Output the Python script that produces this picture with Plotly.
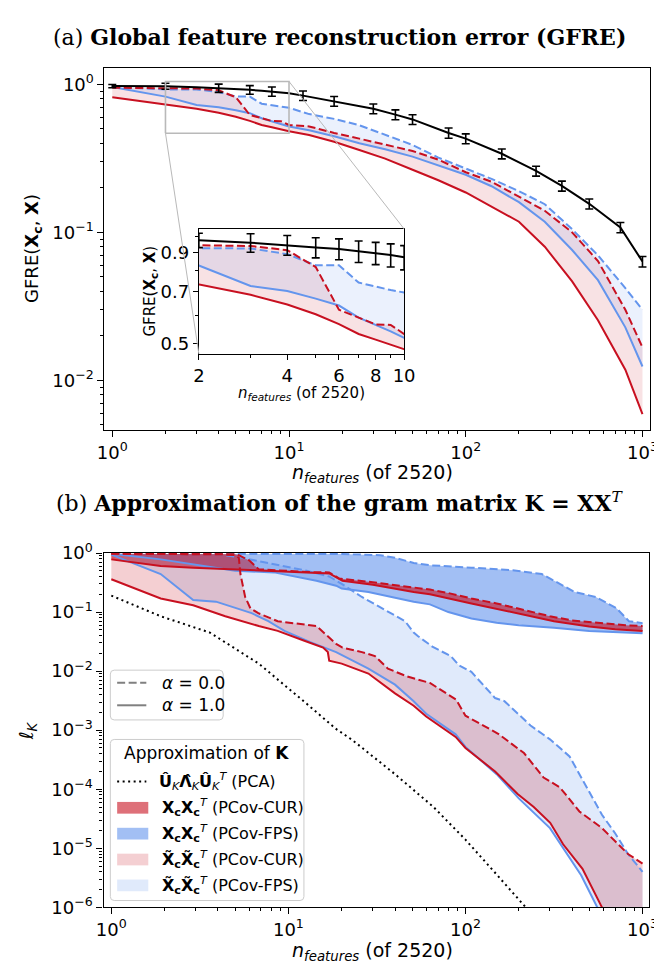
import math
import plotly.graph_objects as go

# ---------------- Panel (a): GFRE ----------------
n_rand = [1, 2, 3, 4, 5, 6, 7, 8, 9, 10, 12, 18, 30, 40, 50, 80, 100, 160, 250, 350, 500, 750, 1000]
gfre_rand = [0.975, 0.973, 0.958, 0.944, 0.929, 0.92, 0.906, 0.896, 0.885, 0.872, 0.84, 0.77,
             0.685, 0.625, 0.58, 0.47, 0.43, 0.34, 0.26, 0.206, 0.156, 0.108, 0.0635]
gfre_rand_err = [0.025, 0.045, 0.057, 0.06, 0.06, 0.062, 0.063, 0.064, 0.066, 0.068, 0.062, 0.058,
                 0.052, 0.048, 0.044, 0.037, 0.033, 0.026, 0.02, 0.016, 0.012, 0.0085, 0.0052]
n_rand_bars_main = [1, 2, 4, 6, 8, 12, 18, 30, 40, 50, 80, 100, 160, 250, 350, 500, 750, 1000]

n_gfre = [1, 2, 3, 4, 5, 6, 7, 8, 9, 10, 13, 18, 25, 35, 50, 70, 100, 140, 200, 280, 400, 560, 800, 1000]
gfre_cur_a1 = [0.82, 0.730, 0.685, 0.643, 0.604, 0.567, 0.532, 0.513, 0.497, 0.482, 0.455, 0.41,
               0.36, 0.315, 0.265, 0.225, 0.186, 0.150, 0.118, 0.080, 0.0466, 0.0255, 0.0118, 0.0059]
gfre_fps_a1 = [0.96, 0.827, 0.725, 0.702, 0.668, 0.639, 0.591, 0.565, 0.541, 0.519, 0.49, 0.446,
               0.40, 0.365, 0.325, 0.285, 0.245, 0.205, 0.16, 0.118, 0.076, 0.0475, 0.0228, 0.0124]
gfre_cur_a0 = [0.95, 0.942, 0.938, 0.913, 0.819, 0.622, 0.591, 0.566, 0.564, 0.532, 0.52, 0.47,
               0.43, 0.39, 0.355, 0.31, 0.255, 0.22, 0.175, 0.14, 0.10, 0.064, 0.030, 0.0167]
gfre_fps_a0 = [0.96, 0.925, 0.923, 0.89, 0.828, 0.828, 0.741, 0.721, 0.706, 0.695, 0.63, 0.585,
               0.53, 0.455, 0.39, 0.32, 0.27, 0.23, 0.19, 0.155, 0.105, 0.070, 0.042, 0.030]

# ---------------- Panel (b): gram matrix ----------------
n_pca = [1, 1.9, 3.6, 6.8, 12.2, 18.5, 23, 40, 66, 100, 150, 219, 300]
lk_pca = [0.19, 0.085, 0.045, 0.0134, 0.0031, 1.06e-3, 6.8e-4, 1.8e-4, 5e-5, 1.4e-5, 3.6e-6, 1e-6, 3e-7]

# X_c X_c^T  (upper group)
n_cur_up_a1 = [1, 1.9, 2.9, 5, 8, 13.3, 17, 20.2, 30, 51, 63, 108, 185, 316, 500, 700, 1000]
lk_cur_up_a1 = [0.78, 0.60, 0.565, 0.53, 0.50, 0.47, 0.45, 0.34, 0.29, 0.218, 0.20, 0.14, 0.10,
                0.07, 0.057, 0.051, 0.048]
n_cur_up_a0 = [1, 2, 3, 4, 5, 5.25, 6, 6.8, 10, 13.3, 17, 19.4, 30, 51, 63, 80, 108, 150, 200,
               300, 400, 600, 800, 1000]
lk_cur_up_a0 = [0.97, 0.97, 0.97, 0.96, 0.95, 0.92, 0.75, 0.53, 0.49, 0.475, 0.47, 0.37, 0.32,
                0.26, 0.24, 0.21, 0.17, 0.14, 0.115, 0.085, 0.072, 0.064, 0.060, 0.058]
n_fps_up_a1 = [1, 1.9, 5, 8.3, 14.4, 18.6, 20, 28.3, 51, 63, 80, 108, 150, 200, 316, 500, 1000]
lk_fps_up_a1 = [0.97, 0.78, 0.50, 0.47, 0.34, 0.28, 0.25, 0.218, 0.15, 0.135, 0.10, 0.078,
                0.066, 0.06, 0.054, 0.048, 0.044]
n_fps_up_a0 = [1, 10, 20, 33, 40, 51, 63, 108, 185, 270, 318, 415, 545, 713, 838, 1000]
lk_fps_up_a0 = [0.96, 0.96, 0.96, 0.92, 0.83, 0.68, 0.62, 0.565, 0.51, 0.44, 0.34, 0.218, 0.18,
                0.116, 0.07, 0.065]

# X~_c X~_c^T  (lower group)
n_cur_lo_a1 = [1, 1.9, 2.9, 4.4, 6.8, 8.7, 12.2, 15.7, 16.7, 17, 20, 28.3, 40, 51, 60, 88, 100,
               147, 197, 243, 301, 356, 458, 590, 700, 1000]
lk_cur_lo_a1 = [0.36, 0.17, 0.13, 0.085, 0.058, 0.048, 0.033, 0.025, 0.021, 0.015, 0.0134,
                0.0091, 0.0042, 0.0026, 0.0017, 7.7e-4, 5.0e-4, 2.0e-4, 8.3e-5, 5.0e-5, 2.7e-5,
                1.17e-5, 4.5e-6, 1.0e-6, 3e-7, 3e-8]
n_cur_lo_a0 = [1, 2, 3, 4, 5, 5.25, 5.36, 5.7, 6.1, 6.76, 8.7, 14.4, 18.6, 20.2, 26, 30.8, 36.5,
               47, 63, 75, 88.5, 100, 153, 214, 276, 341, 440, 590, 828, 1000]
lk_cur_lo_a0 = [0.97, 0.97, 0.96, 0.95, 0.92, 0.83, 0.44, 0.18, 0.116, 0.096, 0.07, 0.058, 0.029,
                0.025, 0.021, 0.018, 0.011, 0.0081, 0.0063, 0.0046, 0.0033, 0.00176, 8.7e-4,
                4.1e-4, 1.58e-4, 1.08e-4, 4.2e-5, 2.2e-5, 8e-6, 5.5e-6]
n_fps_lo_a1 = [1, 1.9, 2.9, 3.9, 6.2, 7.7, 9.5, 13.3, 18.6, 28.3, 40, 51, 60, 88, 100, 150, 200,
               300, 450, 560, 700, 1000]
lk_fps_lo_a1 = [0.94, 0.44, 0.16, 0.15, 0.096, 0.07, 0.048, 0.031, 0.021, 0.011, 0.0059, 0.0031,
                0.0019, 8.5e-4, 5.2e-4, 1.8e-4, 7e-5, 2.2e-5, 3.5e-6, 1e-6, 2.5e-7, 3e-8]
n_fps_lo_a0 = [1, 2, 3, 4, 5.25, 6.8, 12.7, 17, 20, 26, 36.5, 45.6, 51, 54, 65, 82.5, 92, 108, 147,
               166, 233, 300, 387, 458, 590, 700, 828, 1000]
lk_fps_lo_a0 = [0.97, 0.96, 0.96, 0.95, 0.85, 0.73, 0.5, 0.4, 0.3, 0.18, 0.10, 0.07, 0.045, 0.039,
                0.026, 0.018, 0.0125, 0.0097, 0.0035, 0.0031, 0.0012, 7e-4, 3.6e-4, 1.48e-4,
                3.7e-5, 1.8e-5, 8e-6, 4e-6]

# ---------------- Styling ----------------
W, H = 662, 965
RED = "rgb(200,16,32)"
BLUE = "rgb(100,149,237)"
FONT = "DejaVu Sans"
SERIF = "DejaVu Serif"
DASH = "8px,3.5px"
DOT = "2px,3.5px"

# pixel boxes of the axes (left, top, right, bottom)
box_a = (92, 48, 653, 419)
box_in = (189, 213, 400, 341)
box_b = (91, 545, 652, 908)
rx_a = [-0.044, 3.044]
ry_a = [-2.336, 0.112]
rx_in = [math.log10(2), 1.0]
ry_in = [math.log10(0.468), math.log10(1.047)]
rx_b = [-0.044, 3.038]
ry_b = [-6.0, 0.0]


def dom(box):
    l, t, r, b = box
    return [l / W, r / W], [1 - b / H, 1 - t / H]


def to_px(box, rx, ry, n, v):
    l, t, r, b = box
    px = l + (math.log10(n) - rx[0]) / (rx[1] - rx[0]) * (r - l)
    py = b - (math.log10(v) - ry[0]) / (ry[1] - ry[0]) * (b - t)
    return px, py


fig = go.Figure()


def line(x, y, color, dash="solid", width=2.0, xa="x", ya="y"):
    fig.add_trace(go.Scatter(x=x, y=y, mode="lines", xaxis=xa, yaxis=ya, showlegend=False,
                             line=dict(color=color, width=width, dash=dash), hoverinfo="skip"))


def band(x_up, y_up, x_lo, y_lo, fillcolor, xa="x", ya="y"):
    fig.add_trace(go.Scatter(x=list(x_up) + list(x_lo)[::-1], y=list(y_up) + list(y_lo)[::-1],
                             mode="lines", fill="toself", fillcolor=fillcolor, line=dict(width=0),
                             xaxis=xa, yaxis=ya, showlegend=False, hoverinfo="skip"))


rand_map = dict(zip(n_rand, gfre_rand))
err_map = dict(zip(n_rand, gfre_rand_err))

for xa, ya, bars in (("x", "y", n_rand_bars_main), ("x3", "y3", n_rand)):
    band(n_gfre, gfre_cur_a0, n_gfre, gfre_cur_a1, "rgba(200,16,32,0.12)", xa, ya)
    band(n_gfre, gfre_fps_a0, n_gfre, gfre_fps_a1, "rgba(100,149,237,0.13)", xa, ya)
    line(n_gfre, gfre_fps_a1, BLUE, "solid", 2, xa, ya)
    line(n_gfre, gfre_fps_a0, BLUE, DASH, 2, xa, ya)
    line(n_gfre, gfre_cur_a1, RED, "solid", 2, xa, ya)
    line(n_gfre, gfre_cur_a0, RED, DASH, 2, xa, ya)
    line(n_rand, gfre_rand, "black", "solid", 2, xa, ya)
    fig.add_trace(go.Scatter(x=bars, y=[rand_map[k] for k in bars], mode="markers",
                             marker=dict(size=1, color="black", opacity=0), xaxis=xa, yaxis=ya,
                             error_y=dict(type="data", array=[err_map[k] for k in bars],
                                          color="black", thickness=1.6, width=4),
                             showlegend=False, hoverinfo="skip"))

# zoom indicator rectangle in main panel (a)
fig.add_trace(go.Scatter(x=[2, 10, 10, 2, 2],
                         y=[10 ** ry_in[0], 10 ** ry_in[0], 10 ** ry_in[1], 10 ** ry_in[1], 10 ** ry_in[0]],
                         mode="lines", line=dict(color="rgb(185,185,185)", width=1.6),
                         xaxis="x", yaxis="y", showlegend=False, hoverinfo="skip"))

# panel (b)
XB, YB = "x2", "y2"
band(n_fps_up_a0, lk_fps_up_a0, n_fps_up_a1, lk_fps_up_a1, "rgba(100,149,237,0.6)", XB, YB)
band(n_cur_up_a0, lk_cur_up_a0, n_cur_up_a1, lk_cur_up_a1, "rgba(200,16,32,0.6)", XB, YB)
band(n_fps_lo_a0, lk_fps_lo_a0, n_fps_lo_a1, lk_fps_lo_a1, "rgba(100,149,237,0.2)", XB, YB)
band(n_cur_lo_a0, lk_cur_lo_a0, n_cur_lo_a1, lk_cur_lo_a1, "rgba(200,16,32,0.2)", XB, YB)
line(n_fps_up_a1, lk_fps_up_a1, BLUE, "solid", 2, XB, YB)
line(n_fps_up_a0, lk_fps_up_a0, BLUE, DASH, 2, XB, YB)
line(n_fps_lo_a1, lk_fps_lo_a1, BLUE, "solid", 2, XB, YB)
line(n_fps_lo_a0, lk_fps_lo_a0, BLUE, DASH, 2, XB, YB)
line(n_cur_up_a1, lk_cur_up_a1, RED, "solid", 2, XB, YB)
line(n_cur_up_a0, lk_cur_up_a0, RED, DASH, 2, XB, YB)
line(n_cur_lo_a1, lk_cur_lo_a1, RED, "solid", 2, XB, YB)
line(n_cur_lo_a0, lk_cur_lo_a0, RED, DASH, 2, XB, YB)
line(n_pca, lk_pca, "black", DOT, 2, XB, YB)


def logticks(lo, hi):
    return [m * 10 ** e for e in range(lo, hi) for m in range(2, 10)]


def sup(e):
    return "10<sup>%s</sup>" % (str(e).replace("-", "\u2212"))


TICKFONT = dict(family=FONT, size=18, color="black")
common = dict(type="log", showgrid=False, zeroline=False, showline=True, linecolor="black",
              linewidth=1.2, mirror=True, ticks="outside", ticklen=6, tickwidth=1.2,
              tickcolor="black", tickfont=TICKFONT)
minor_common = dict(ticks="outside", ticklen=3, tickwidth=1, tickcolor="black", showgrid=False)

xd, yd = dom(box_a)
fig.update_layout(
    xaxis=dict(domain=xd, range=rx_a, anchor="y", tickmode="array", tickvals=[1, 10, 100, 1000],
               ticktext=[sup(i) for i in range(4)],
               minor=dict(tickmode="array", tickvals=logticks(0, 4), **minor_common), **common),
    yaxis=dict(domain=yd, range=ry_a, anchor="x", tickmode="array", tickvals=[1, 0.1, 0.01],
               ticktext=[sup(0), sup(-1), sup(-2)],
               minor=dict(tickmode="array", tickvals=logticks(-3, 1), **minor_common), **common),
)
xd, yd = dom(box_b)
fig.update_layout(
    xaxis2=dict(domain=xd, range=rx_b, anchor="y2", tickmode="array", tickvals=[1, 10, 100, 1000],
                ticktext=[sup(i) for i in range(4)],
                minor=dict(tickmode="array", tickvals=logticks(0, 4), **minor_common), **common),
    yaxis2=dict(domain=yd, range=ry_b, anchor="x2", tickmode="array",
                tickvals=[10 ** -k for k in range(7)], ticktext=[sup(-k) if k else sup(0) for k in range(7)],
                minor=dict(tickmode="array", tickvals=logticks(-6, 0), **minor_common), **common),
)
xd, yd = dom(box_in)
inset_common = dict(common)
inset_common["ticklen"] = 5
inset_common["tickfont"] = dict(family=FONT, size=18, color="black")
fig.update_layout(
    xaxis3=dict(domain=xd, range=rx_in, anchor="y3", tickmode="array", tickvals=[2, 4, 6, 8, 10],
                ticktext=["2", "4", "6", "8", "10"], ticklabelstandoff=0,
                minor=dict(tickmode="array", tickvals=[3, 5, 7, 9], **minor_common), **inset_common),
    yaxis3=dict(domain=yd, range=ry_in, anchor="x3", tickmode="array", tickvals=[0.5, 0.7, 0.9],
                ticktext=["0.5", "0.7", "0.9"],
                minor=dict(tickmode="array", tickvals=[0.6, 0.8, 1.0], **minor_common), **inset_common),
)

# connector lines from the zoom rectangle to the inset
shapes = []
bl = to_px(box_a, rx_a, ry_a, 2, 10 ** ry_in[0])
tr = to_px(box_a, rx_a, ry_a, 10, 10 ** ry_in[1])
for (p, q) in ((bl, (box_in[0], box_in[3])), (tr, (box_in[2], box_in[1]))):
    shapes.append(dict(type="line", xref="paper", yref="paper", x0=p[0] / W, y0=1 - p[1] / H,
                       x1=q[0] / W, y1=1 - q[1] / H, line=dict(color="rgb(185,185,185)", width=1),
                       layer="above"))


def rounded_box(l, t, r, b, rad=4):
    ax, ay = rad / W, rad / H
    L, R, T, B = l / W, r / W, 1 - t / H, 1 - b / H
    path = (f"M {L+ax},{T} L {R-ax},{T} Q {R},{T} {R},{T-ay} L {R},{B+ay} Q {R},{B} {R-ax},{B} "
            f"L {L+ax},{B} Q {L},{B} {L},{B+ay} L {L},{T-ay} Q {L},{T} {L+ax},{T} Z")
    return dict(type="path", xref="paper", yref="paper", path=path, layer="above",
                fillcolor="rgba(255,255,255,0.85)", line=dict(color="rgb(204,204,204)", width=1))


shapes.append(rounded_box(98, 665, 214, 716))
shapes.append(rounded_box(98, 736, 297, 901))


def hline(x0, x1, y, color, dash, width=2):
    return dict(type="line", xref="paper", yref="paper", x0=x0 / W, x1=x1 / W, y0=1 - y / H,
                y1=1 - y / H, line=dict(color=color, width=width, dash=dash), layer="above")


def swatch(y, color):
    return dict(type="rect", xref="paper", yref="paper", x0=105 / W, x1=137 / W,
                y0=1 - (y + 6) / H, y1=1 - (y - 6) / H, fillcolor=color, line=dict(width=0),
                layer="above")


shapes.append(hline(105, 135, 678, "gray", DASH))
shapes.append(hline(105, 135, 701, "gray", "solid"))
shapes.append(hline(105, 135, 779, "black", DOT))
shapes.append(swatch(806, "rgba(200,16,32,0.6)"))
shapes.append(swatch(832.5, "rgba(100,149,237,0.6)"))
shapes.append(swatch(859, "rgba(200,16,32,0.2)"))
shapes.append(swatch(885.5, "rgba(100,149,237,0.2)"))

annotations = []


def text(x, y, s, size=17, xanchor="left", family=FONT, angle=0):
    annotations.append(dict(xref="paper", yref="paper", x=x / W, y=1 - y / H, text=s,
                            showarrow=False, xanchor=xanchor, yanchor="middle", textangle=angle,
                            font=dict(family=family, size=size, color="black")))


NF = "<i>n</i><sub><i>features</i></sub> (of 2520)"
text(334, 16, "(a) <b>Global feature reconstruction error (GFRE)</b>", 22, "center", SERIF)
text(334, 493, "(b) <b>Approximation of the gram matrix K = XX</b><sup><i>T</i></sup>", 22,
     "center", SERIF)
text(19, 233, "GFRE(<b>X</b><sub><b>c</b></sub>, <b>X</b>)", 18, "center", angle=-90)
text(368, 464, NF, 19, "center")
text(139, 277, "GFRE(<b>X</b><sub><b>c</b></sub>, <b>X</b>)", 15, "center", angle=-90)
text(294, 382, NF, 15, "center")
text(13, 727, "\u2113<sub><i>K</i></sub>", 19, "center", angle=-90)
text(368, 953, NF, 19, "center")

text(149, 678, "<i>\u03b1</i> = 0.0", 17)
text(149, 701, "<i>\u03b1</i> = 1.0", 17)
text(197, 750, "Approximation of <b>K</b>", 17, "center")
text(146, 779, "<b>\u00db</b><sub><i>K</i></sub><b>\u039b\u0302</b><sub><i>K</i></sub>"
     "<b>\u00db</b><sub><i>K</i></sub><sup><i>T</i></sup> (PCA)", 16)
XC = "<b>X</b><sub><b>c</b></sub><b>X</b><sub><b>c</b></sub><sup><i>T</i></sup>"
XT = "<b>X\u0303</b><sub><b>c</b></sub><b>X\u0303</b><sub><b>c</b></sub><sup><i>T</i></sup>"
text(149, 806, XC + " (PCov-CUR)", 16)
text(149, 832.5, XC + " (PCov-FPS)", 16)
text(149, 859, XT + " (PCov-CUR)", 16)
text(149, 885.5, XT + " (PCov-FPS)", 16)

fig.update_layout(width=W, height=H, margin=dict(l=0, r=0, t=0, b=0), paper_bgcolor="white",
                  plot_bgcolor="white", showlegend=False, shapes=shapes, annotations=annotations)

fig.write_html("out.html")
